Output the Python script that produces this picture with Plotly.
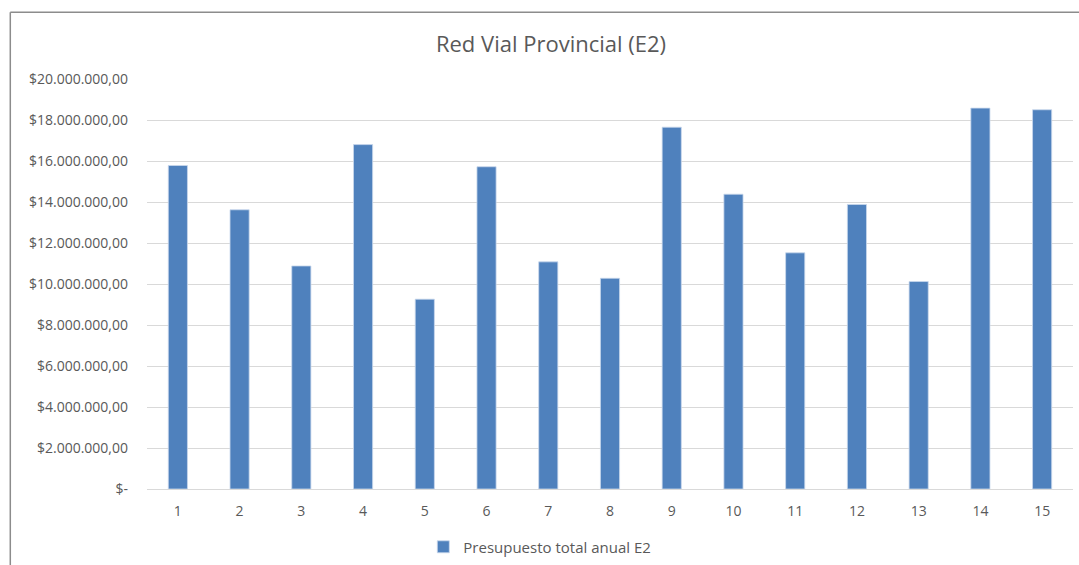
import plotly.graph_objects as go

# Annual budget per section of the provincial road network (E2)
categorias = [str(i) for i in range(1, 16)]
presupuesto = [15.78e6, 13.62e6, 10.88e6, 16.80e6, 9.26e6, 15.72e6, 11.08e6, 10.28e6,
               17.65e6, 14.38e6, 11.52e6, 13.88e6, 10.12e6, 18.58e6, 18.50e6]
ticks_y = [0, 2e6, 4e6, 6e6, 8e6, 10e6, 12e6, 14e6, 16e6, 18e6, 20e6]
etiquetas_y = ["$-", "$2.000.000,00", "$4.000.000,00", "$6.000.000,00", "$8.000.000,00",
               "$10.000.000,00", "$12.000.000,00", "$14.000.000,00", "$16.000.000,00",
               "$18.000.000,00", "$20.000.000,00"]

W, H = 1079, 565
L, R, T, B = 146.7, 1079 - 1072.7, 79.3, 565 - 489
pw, ph = W - L - R, H - T - B

def px_x(x):
    return (x - L) / pw

def px_y(y):
    return (H - B - y) / ph

FONT = "Open Sans, Liberation Sans, sans-serif"
GRIS = "#595959"

fig = go.Figure(go.Bar(
    x=categorias, y=presupuesto, name="Presupuesto total anual E2",
    marker=dict(color="#4F81BD", line=dict(color="#C9D8EC", width=0.8)),
    showlegend=True,
))

# chart frame (left and top edges are visible)
bx, by = px_x(10), px_y(12.7)
fig.add_shape(type="line", xref="paper", yref="paper", x0=bx, x1=bx, y0=px_y(H + 5), y1=by,
              line=dict(color="#8C8C8C", width=1.5))
fig.add_shape(type="line", xref="paper", yref="paper", x0=bx, x1=px_x(W + 5), y0=by, y1=by,
              line=dict(color="#8C8C8C", width=1.5))

fig.update_layout(
    width=W, height=H,
    margin=dict(l=L, r=R, t=T, b=B, autoexpand=False),
    paper_bgcolor="white", plot_bgcolor="white",
    bargap=0.69,
    title=dict(text="Red Vial Provincial (E2)", xref="container", x=551 / W, xanchor="center",
               yref="container", y=1 - 44 / H, yanchor="middle",
               font=dict(family=FONT, size=22, color=GRIS)),
    font=dict(family=FONT, color=GRIS, size=14),
    legend=dict(orientation="h", x=px_x(423), xanchor="left", y=px_y(547), yanchor="middle",
                font=dict(family=FONT, size=15, color=GRIS), itemwidth=30),
    xaxis=dict(showgrid=False, showline=False, ticks="", ticklabelstandoff=12,
               tickfont=dict(size=14, color=GRIS)),
    yaxis=dict(range=[0, 20e6], tickvals=ticks_y, ticktext=etiquetas_y,
               showgrid=True, gridcolor="#D9D9D9", gridwidth=1,
               zeroline=True, zerolinecolor="#D9D9D9", zerolinewidth=1,
               showline=False, ticks="", ticklabelstandoff=18,
               tickfont=dict(size=14, color=GRIS)),
)

fig.write_html("out.html")
